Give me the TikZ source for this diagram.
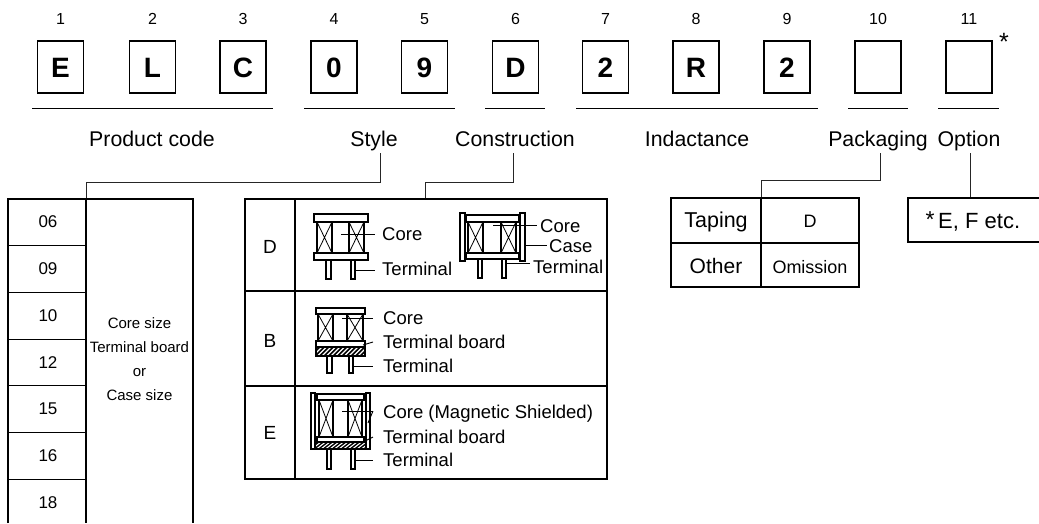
\documentclass[tikz,border=0pt]{standalone}
\usepackage{fontspec}
\setmainfont{Liberation Sans}
\newcommand\fsz[1]{\fontsize{#1}{#1}\selectfont}
\newcommand\coilX[4]{%
  \draw[partline,fill=white] (#1,#2) rectangle (#3,#4);
  \draw[thinline] (#1,#2) -- (#3,#4) (#1,#4) -- (#3,#2);}
\newcommand\plateR[4]{\draw[partline,fill=white] (#1,#2) rectangle (#3,#4);}
\newcommand\hatchR[4]{%
  \begin{scope}
    \clip (#1,#2) rectangle (#3,#4);
    \fill[black] (#1,#2) rectangle (#3,#4);
    \foreach \k in {-12,-7.5,...,60} {\draw[white,line width=1.1pt] (#1+\k,#4) -- (#1+\k+9,#2);}
  \end{scope}
  \draw[partline] (#1,#2) rectangle (#3,#4);}
\begin{document}
\begin{tikzpicture}[x=1pt,y=-1pt,
  codebox/.style={draw,line width=1.3pt,minimum width=46pt,minimum height=52pt,inner sep=0pt},
  bigchar/.style={font=\fsz{28}\bfseries,anchor=base,inner sep=0pt},
  num/.style={font=\fsz{16},anchor=base,inner sep=0pt},
  grp/.style={font=\fsz{21.3},anchor=base,inner sep=0pt},
  uline/.style={line width=1pt},
  conn/.style={line width=1pt,draw=black!85},
  tbl/.style={line width=1.2pt},
  cell/.style={font=\fsz{17},inner sep=0pt},
  small/.style={font=\fsz{15},anchor=base,inner sep=0pt},
  lbl/.style={font=\fsz{18.5},anchor=base west,inner sep=0pt},
  rowl/.style={font=\fsz{19},anchor=base,inner sep=0pt},
  partline/.style={line width=1.3pt},
  thinline/.style={line width=0.8pt},
  lead/.style={line width=0.9pt}]
\useasboundingbox (0,0) rectangle (1039,523);

% ---- code boxes ----
\foreach \i/\x/\c in {1/60.5/E,2/152.5/L,3/243/C,4/334/0,5/424.5/9,6/515.5/D,7/605.5/2,8/696/R,9/787/2}{
  \node[num] (n\i) at (\x,24) {\i};
  \node[codebox] (b\i) at (\x,67) {};
  \node[bigchar] (c\i) at (\x,77) {\c};
}
\node[num] (n10) at (878,24) {10};
\node[codebox] (b10) at (878,67) {};
\node[num] (n11) at (969,24) {11};
\node[codebox] (b11) at (969,67) {};
\node[font=\fsz{25},anchor=base,inner sep=0pt] (ast) at (1004,50) {*};

% ---- underlines ----
\draw[uline] (32,108) -- (273,108);
\draw[uline] (304,108) -- (455,108);
\draw[uline] (485,108) -- (545,108);
\draw[uline] (576,108) -- (818,108);
\draw[uline] (848,108) -- (908,108);
\draw[uline] (938,108) -- (999,108);

% ---- group labels ----
\node[grp] (lprod) at (152,146) {Product code};
\node[grp] (lstyle) at (374,146) {Style};
\node[grp] (lcons) at (515,146) {Construction};
\node[grp] (lind) at (697,146) {Indactance};
\node[grp] (lpack) at (878,146) {Packaging};
\node[grp] (lopt) at (969,146) {Option};

% ---- connector end points ----
\coordinate (sTop) at (380,153);
\coordinate (cTop) at (513,153);
\coordinate (pTop) at (880,153);
\coordinate (oTop) at (970,153);
\coordinate (tabS) at (86,199);
\coordinate (tabC) at (425,199);
\coordinate (tabP) at (761,198);
\coordinate (tabO) at (970,198);
\draw[conn] (sTop) -- ++(0,29) -| (tabS);
\draw[conn] (cTop) -- ++(0,29) -| (tabC);
\draw[conn] (pTop) -- ++(0,27) -| (tabP);
\draw[conn] (oTop) -- (tabO);

% ---- style table ----
\draw[tbl] (8,523) -- (8,199) -- (193,199) -- (193,523);
\draw[tbl] (86,199) -- (86,523);
\foreach \y in {245.7,292.4,339.1,385.8,432.5,479.2}{\draw[tbl] (8,\y) -- (86,\y);}
\foreach \t/\y in {06/222,09/269,10/316,12/362.5,15/409,16/456,18/502.5}{
  \node[cell] (s\t) at (48,\y) {\t};
}
\node[small] (cs1) at (139.5,328) {Core size};
\node[small] (cs2) at (139.5,352) {Terminal board};
\node[small] (cs3) at (139.5,376) {or};
\node[small] (cs4) at (139.5,400) {Case size};

% ---- construction table ----
\draw[tbl] (245,199) rectangle (607,479);
\draw[tbl] (295,199) -- (295,479);
\draw[tbl] (245,291) -- (607,291);
\draw[tbl] (245,386) -- (607,386);
\node[rowl] (rD) at (270,253) {D};
\node[rowl] (rB) at (270,347) {B};
\node[rowl] (rE) at (270,439) {E};

% D, open type
\plateR{314}{214}{368}{222}
\coilX{317}{222}{332}{253}
\coilX{349}{222}{364}{253}
\plateR{314}{253}{368}{260}
\plateR{326}{260}{331}{279}
\plateR{351}{260}{355}{279}
\draw[lead] (341,234) -- (375,234);
\draw[lead] (355,270) -- (375,270);
\node[lbl] (d1core) at (382,240) {Core};
\node[lbl] (d1term) at (382,275) {Terminal};

% D, case type
\plateR{460}{213}{465}{261}
\plateR{520}{213}{525}{261}
\plateR{466}{215}{519}{222}
\coilX{468}{222}{483}{253}
\coilX{501}{222}{516}{253}
\plateR{466}{253}{519}{259}
\plateR{478}{259}{482}{278}
\plateR{502}{259}{506}{278}
\draw[lead] (493,225) -- (537,225);
\draw[lead] (525,245) -- (547,245);
\draw[lead] (506,263) -- (530,263);
\node[lbl] (d2core) at (540,232.5) {Core};
\node[lbl] (d2case) at (549,252.5) {Case};
\node[lbl] (d2term) at (533,273.5) {Terminal};

% B
\plateR{316}{308}{365}{314}
\coilX{318}{314}{333}{341}
\coilX{347}{314}{363}{341}
\plateR{316}{341}{365}{347}
\hatchR{316}{347}{365}{356}
\plateR{327}{356}{332}{373}
\plateR{349}{356}{353}{373}
\draw[lead] (342,318) -- (373,318);
\draw[lead] (363,345) -- (373,342);
\draw[lead] (353,366) -- (373,366);
\node[lbl] (bcore) at (383,324.5) {Core};
\node[lbl] (bboard) at (383,348.5) {Terminal board};
\node[lbl] (bterm) at (383,372.5) {Terminal};

% E
\plateR{311}{393}{315}{449}
\plateR{366}{393}{370}{449}
\plateR{317}{394}{364}{400}
\coilX{319}{400}{333}{437}
\coilX{348}{400}{362}{437}
\plateR{317}{437}{364}{442}
\hatchR{315}{442}{366}{449}
\plateR{327}{449}{331}{469}
\plateR{351}{449}{355}{469}
\draw[lead] (342,411) -- (373,411);
\draw[lead] (368,423) -- (373,411);
\draw[lead] (363,442) -- (373,437);
\draw[lead] (355,460) -- (373,460);
\node[lbl] (ecore) at (383,418.5) {Core (Magnetic Shielded)};
\node[lbl] (eboard) at (383,443.5) {Terminal board};
\node[lbl] (eterm) at (383,466.5) {Terminal};

% ---- packaging table ----
\draw[tbl] (671,198) rectangle (859,287);
\draw[tbl] (761,198) -- (761,287);
\draw[tbl] (671,243) -- (859,243);
\node[font=\fsz{21.5},anchor=base,inner sep=0pt] (ptap) at (716,227) {Taping};
\node[font=\fsz{18},anchor=base,inner sep=0pt] (pD) at (810,227) {D};
\node[font=\fsz{21},anchor=base,inner sep=0pt] (poth) at (716,273) {Other};
\node[font=\fsz{18},anchor=base,inner sep=0pt] (pom) at (810,273) {Omission};

% ---- option box ----
\node[font=\fsz{23},anchor=base,inner sep=0pt] (oast) at (930,227) {*};
\draw[tbl] (1039,198) -- (908,198) -- (908,242) -- (1039,242);
\node[font=\fsz{22},anchor=base west,inner sep=0pt] (otext) at (938,228) {E, F etc.};
\end{tikzpicture}
\end{document}
